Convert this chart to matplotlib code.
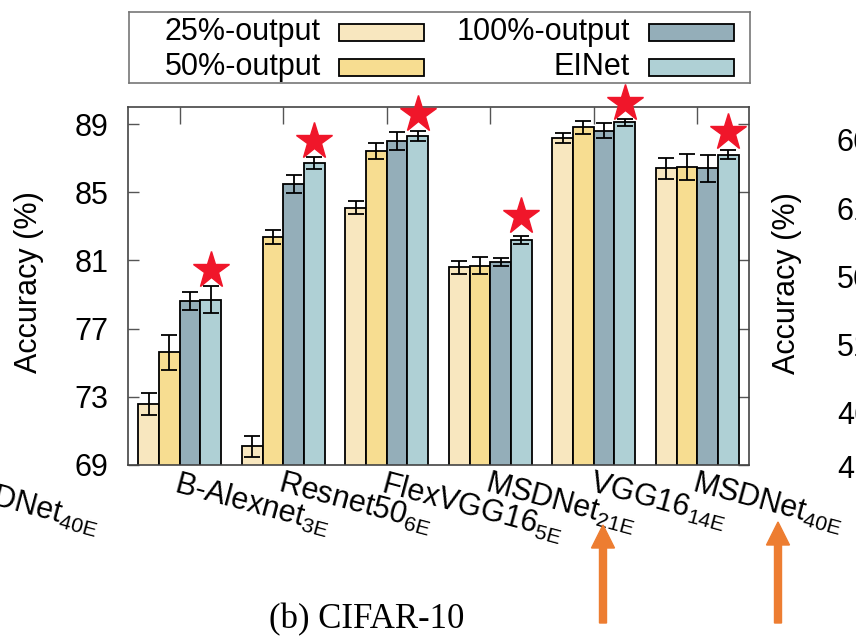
import matplotlib
matplotlib.use('Agg')
import matplotlib.pyplot as plt
from matplotlib.patches import Rectangle, FancyArrow
import numpy as np

plt.rcParams['font.family'] = 'Liberation Sans'
plt.rcParams['mathtext.fontset'] = 'custom'
plt.rcParams['mathtext.rm'] = 'Liberation Sans'

# models and their number of exits
models = ['B-Alexnet', 'Resnet50', 'FlexVGG16', 'MSDNet', 'VGG16', 'MSDNet']
exits = ['3E', '6E', '5E', '21E', '14E', '40E']

# accuracy (%) per variant
series = ['25%-output', '50%-output', '100%-output', 'EINet']
acc_25 = [72.6, 70.1, 84.1, 80.6, 88.2, 86.4]
acc_50 = [75.6, 82.4, 87.4, 80.7, 88.8, 86.5]
acc_100 = [78.6, 85.5, 88.0, 80.9, 88.6, 86.4]
acc_einet = [78.7, 86.7, 88.3, 82.2, 89.1, 87.2]
err_25 = [0.64, 0.62, 0.37, 0.37, 0.30, 0.61]
err_50 = [1.03, 0.41, 0.47, 0.48, 0.39, 0.76]
err_100 = [0.53, 0.54, 0.51, 0.22, 0.44, 0.78]
err_einet = [0.78, 0.36, 0.28, 0.24, 0.21, 0.26]
# red stars marking the best one
star_vals = [80.45, 88.0, 89.6, 83.6, 90.25, 88.55]

colors = ['#F8E7BF', '#F7DD91', '#94AEB9', '#AFD0D5']
star_red = '#F0162A'
arrow_orange = '#ED7D31'

W, H = 856, 639
fig = plt.figure(figsize=(W / 100, H / 100), dpi=100)

def fx(px):
    return px / W

def fy(py):
    return 1 - py / H

ax = fig.add_axes([fx(128), fy(465), fx(749) - fx(128), fy(107) - fy(465)])

X = np.arange(len(models))
width = 0.2
all_acc = [acc_25, acc_50, acc_100, acc_einet]
all_err = [err_25, err_50, err_100, err_einet]
for i in range(4):
    pos = X + (i - 1.5) * width
    ax.bar(pos, all_acc[i], width, color=colors[i], edgecolor='black', linewidth=1.3, zorder=2)
    ax.errorbar(pos, all_acc[i], yerr=all_err[i], fmt='none', ecolor='black',
                elinewidth=1.3, capsize=6, capthick=1.3, zorder=3)

ax.plot(X + 1.5 * width, star_vals, '*', color=star_red, markeredgecolor=star_red,
        markersize=28, clip_on=False, zorder=5)

ax.set_xlim(-0.5, 5.5)
ax.set_ylim(69, 90)
ax.set_yticks([69, 73, 77, 81, 85, 89])
ax.set_xticks(X)
ax.set_xticklabels([m + r'$_{\mathregular{' + e + '}}$' for m, e in zip(models, exits)])
ax.tick_params(axis='y', direction='in', length=8, width=1, color='#555555',
               labelsize=22, pad=14, right=True)
ax.tick_params(axis='x', direction='in', length=12, width=1, color='#555555',
               labelsize=22, pad=2, top=True, bottom=False)
plt.setp(ax.get_xticklabels(), rotation=-15, ha='left', va='top', rotation_mode='anchor')
for s in ax.spines.values():
    s.set_color('#444444')
    s.set_linewidth(1.2)
ax.set_ylabel('Accuracy (%)', fontsize=22)
ax.yaxis.set_label_coords(-0.135, 0.51)

# legend, drawn by hand: text right-aligned, swatch after it
lax = fig.add_axes([fx(129), fy(83), fx(750) - fx(129), fy(12) - fy(83)])
lax.set_xlim(129, 750)
lax.set_ylim(83, 12)
lax.set_xticks([])
lax.set_yticks([])
for s in lax.spines.values():
    s.set_color('#777777')
    s.set_linewidth(1.2)
text_right = [321, 630]
swatch_left = [339, 649]
row_y = [32, 67]
for i in range(4):
    col, row = i // 2, i % 2
    lax.text(text_right[col], row_y[row], series[i], fontsize=22, ha='right', va='center')
    lax.add_patch(Rectangle((swatch_left[col], row_y[row] - 8.5), 85, 17,
                            facecolor=colors[i], edgecolor='black', linewidth=1.3))

# pieces of the neighbouring panels that got cropped in
fig.text(fx(-47), fy(470), r'MSDNet$_{\mathregular{40E}}$', fontsize=22, rotation=-15,
         ha='left', va='top', rotation_mode='anchor')
fig.text(fx(787), fy(283), 'Accuracy (%)', fontsize=22, rotation=90, ha='center', va='center')
right_ticks = ['66', '61', '56', '51', '46', '41']
right_tick_y = [143, 212, 280, 348, 416, 470]
for t, yy in zip(right_ticks, right_tick_y):
    fig.text(fx(871), fy(yy), t, fontsize=22, ha='right', va='center')

# caption
fig.text(fx(367), fy(628), '(b) CIFAR-10', fontsize=25, family='Liberation Serif',
         ha='center', va='baseline')

# orange arrows
for ax_px, tip in [(603, 525), (778, 522)]:
    base = 623
    fig.add_artist(FancyArrow(ax_px / 100, (H - base) / 100, 0, (base - tip) / 100,
                              width=0.07, head_width=0.23, head_length=0.23,
                              length_includes_head=True, color=arrow_orange,
                              transform=fig.dpi_scale_trans))

fig.savefig('out.png', dpi=100)
